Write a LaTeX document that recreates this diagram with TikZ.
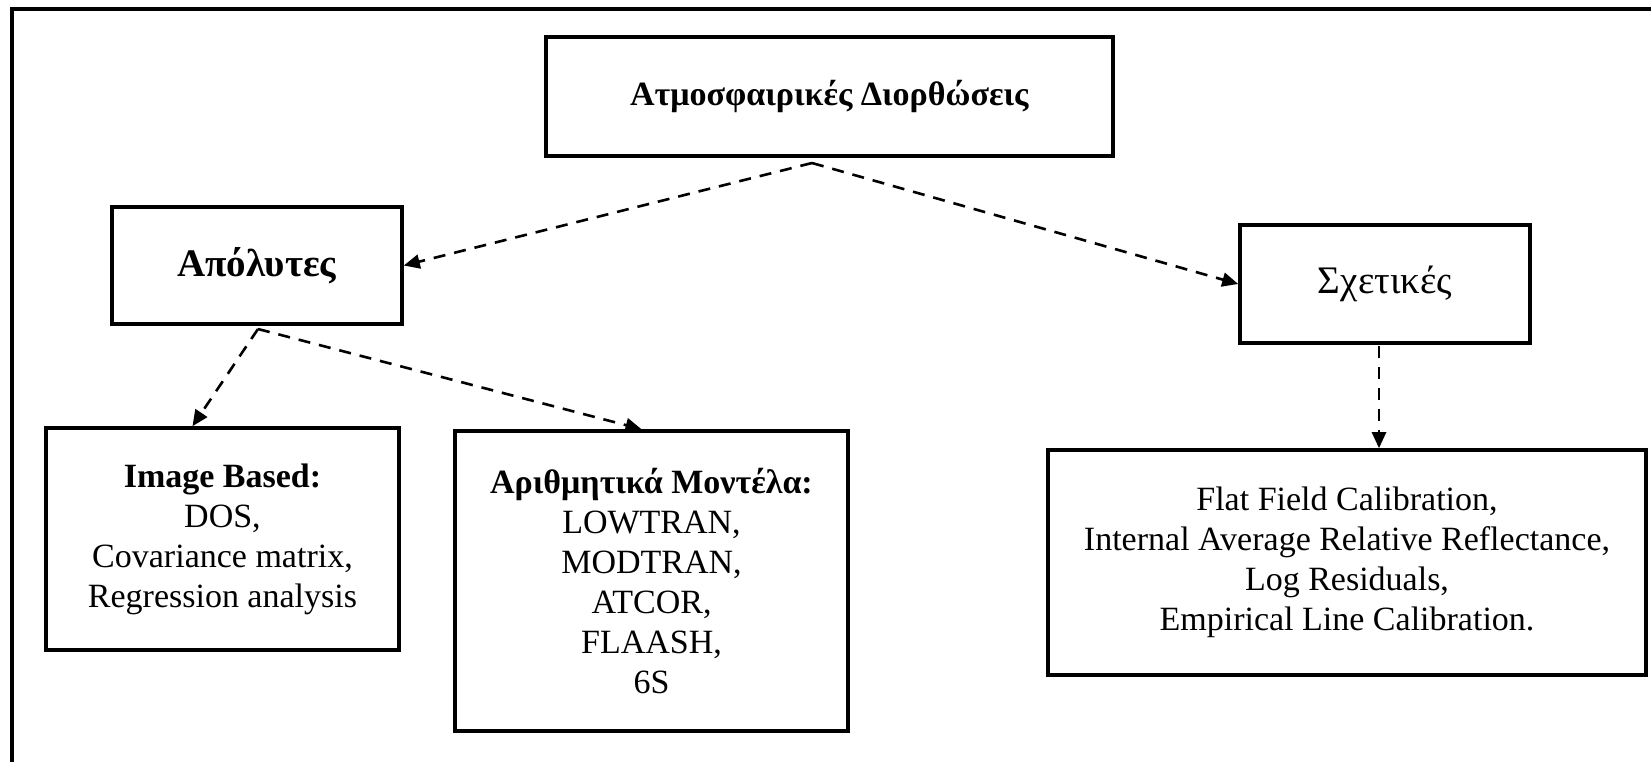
\documentclass[tikz,border=0pt]{standalone}
\usepackage{fontspec}
\setmainfont{Liberation Serif}
\usetikzlibrary{arrows.meta, positioning, calc}

\begin{document}
\begin{tikzpicture}[x=0.5pt, y=-0.5pt, >=Stealth, line join=miter]
	\tikzset{
		frame/.style={line width=2pt},
		box/.style={draw, line width=1.8pt, align=center, inner sep=2pt, font=\fontsize{17}{20}\selectfont},
		bigtext/.style={font=\fontsize{19.5}{23}\selectfont},
		link/.style={line width=1.3pt, dash pattern=on 6pt off 4.5pt, -{Triangle[length=8pt, width=7pt]}}
	}
	
	\useasboundingbox (0,0) rectangle (1651,762);
	\draw[frame] (1651,9) -- (12,9) -- (12,762);
	
	\node[box, minimum width=283.5pt, minimum height=59.5pt] (title) at (829.5,96.5) {\textbf{Ατμοσφαιρικές Διορθώσεις}};
	
	\node[box, bigtext, minimum width=145pt, minimum height=58.5pt] (absol) at (257,265.5) {\textbf{Απόλυτες}};
	\node[box, bigtext, minimum width=145pt, minimum height=59pt] (relat) at (1385,284) {Σχετικές};
	
	\node[box, minimum width=176.5pt, minimum height=111pt] (imgbased) at (222.5,539) {\textbf{Image Based:}\\ DOS,\\ Covariance matrix,\\ Regression analysis};
	\node[box, minimum width=196.5pt, minimum height=150pt] (nummodel) at (651.5,581) {\textbf{Αριθμητικά Μοντέλα:}\\ LOWTRAN,\\ MODTRAN,\\ ATCOR,\\ FLAASH,\\ 6S};
	\node[box, minimum width=299pt, minimum height=112.5pt] (flatfield) at (1347,562.5) {Flat Field Calibration,\\ Internal Average Relative Reflectance,\\ Log Residuals,\\ Empirical Line Calibration.};
	
	% forks below the boxes
	\coordinate (titlefork) at (812,163);
	\coordinate (absfork) at (258,329);
	\coordinate (relfork) at (1379,346);
	
	\draw[link] (titlefork) -- (absol.east);
	\draw[link] (titlefork) -- (relat.west);
	\draw[link] (absfork) -- ([xshift=-15pt]imgbased.north);
	\draw[link] (absfork) -- ([xshift=-5pt]nummodel.north);
	\draw[link] (relfork) -- (relfork |- flatfield.north);
	
\end{tikzpicture}
\end{document}
